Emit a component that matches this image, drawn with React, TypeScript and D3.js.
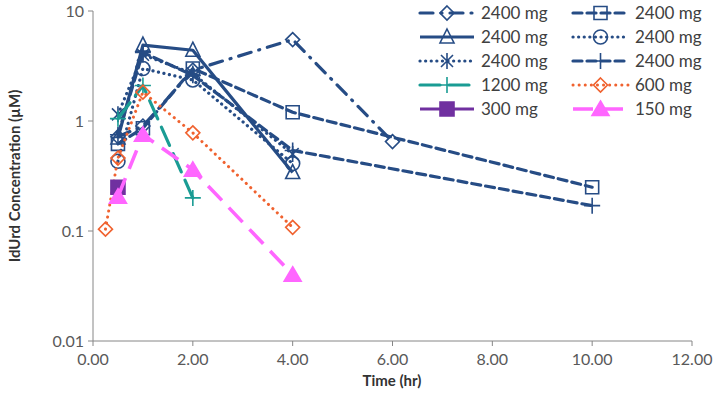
import React from "react";
import * as d3 from "d3";

// series values (time in hr, concentration in µM)
const legendLabels = ["2400 mg", "2400 mg", "2400 mg", "2400 mg", "2400 mg", "2400 mg", "1200 mg", "600 mg", "300 mg", "150 mg"];

const timesA = [0.5, 1, 2, 4, 6];
const concA = [0.72, 0.9, 2.9, 5.5, 0.65];
const timesB = [0.5, 1, 2, 4, 10];
const concB = [0.62, 0.86, 3.0, 1.2, 0.25];
const timesC = [0.5, 1, 2, 4];
const concC = [0.7, 4.9, 4.4, 0.34];
const timesD = [0.5, 1, 2, 4];
const concD = [0.43, 3.0, 2.36, 0.41];
const timesE = [0.5, 1, 2, 4];
const concE = [1.15, 4.0, 2.7, 0.5];
const timesF = [0.5, 1, 2, 4, 10];
const concF = [0.75, 4.2, 2.6, 0.54, 0.17];
const timesG = [0.5, 1, 2];
const concG = [1.05, 2.1, 0.2];
const timesH = [0.25, 0.5, 1, 2, 4];
const concH = [0.104, 0.46, 1.83, 0.78, 0.108];
const timesI = [0.5];
const concI = [0.25];
const timesJ = [0.5, 1, 2, 4];
const concJ = [0.205, 0.75, 0.36, 0.04];

const xTicks = [0, 2, 4, 6, 8, 10, 12];
const yTicks = [0.01, 0.1, 1, 10];

const navy = "#264C85";
const teal = "#1A9C94";
const orange = "#F0622F";
const purple = "#7030A0";
const pink = "#FF66FF";

type Style = { color: string; dash: string; cap: string; width: number; marker: string; fill: boolean };

const styles: Style[] = [
  { color: navy, dash: "13 8 1 8", cap: "round", width: 3.2, marker: "diamond", fill: false },
  { color: navy, dash: "9 5", cap: "round", width: 3.2, marker: "square", fill: false },
  { color: navy, dash: "", cap: "butt", width: 3.2, marker: "triangle", fill: false },
  { color: navy, dash: "0.1 5.5", cap: "round", width: 3.2, marker: "circle", fill: false },
  { color: navy, dash: "0.1 5.5", cap: "round", width: 3.2, marker: "asterisk", fill: false },
  { color: navy, dash: "9 5", cap: "round", width: 3.2, marker: "plus", fill: false },
  { color: teal, dash: "20 9", cap: "round", width: 3.2, marker: "plus", fill: false },
  { color: orange, dash: "0.1 6", cap: "round", width: 3, marker: "diamond", fill: false },
  { color: purple, dash: "", cap: "butt", width: 3.2, marker: "square", fill: true },
  { color: pink, dash: "20 10", cap: "butt", width: 3.6, marker: "triangle", fill: true },
];

const times = [timesA, timesB, timesC, timesD, timesE, timesF, timesG, timesH, timesI, timesJ];
const concs = [concA, concB, concC, concD, concE, concF, concG, concH, concI, concJ];

const W = 718;
const H = 411;
const x = d3.scaleLinear().domain([0, 12]).range([93, 692]);
const y = d3.scaleLog().domain([0.01, 10]).range([341, 11]);

function markerPath(kind: string, filled: boolean): string {
  switch (kind) {
    case "diamond":
      return "M0,-7L7,0L0,7L-7,0Z";
    case "square":
      return filled ? "M-7,-7H7V7H-7Z" : "M-6.5,-6.5H6.5V6.5H-6.5Z";
    case "triangle":
      return filled ? "M0,-8L8.5,6.5L-8.5,6.5Z" : "M0,-8L7,6L-7,6Z";
    case "asterisk":
      return "M-6,-6L6,6M-6,6L6,-6M0,-8L0,8";
    case "plus":
      return "M-8,0L8,0M0,-8L0,8";
    default:
      return "";
  }
}

function Marker({ s, cx, cy }: { s: Style; cx: number; cy: number }) {
  if (s.marker === "circle") {
    return <circle cx={cx} cy={cy} r={7} fill="none" stroke={s.color} strokeWidth={1.6} />;
  }
  return (
    <path
      d={markerPath(s.marker, s.fill)}
      transform={`translate(${cx},${cy})`}
      fill={s.fill ? s.color : "none"}
      stroke={s.color}
      strokeWidth={1.6}
    />
  );
}

export default function App() {
  const line = d3
    .line<[number, number]>()
    .x((d) => x(d[0]))
    .y((d) => y(d[1]));

  const font = "Lato, 'Open Sans', sans-serif";

  return (
    <svg width={W} height={H} style={{ position: "absolute", left: 0, top: 0, background: "#fff" }}>
      {/* axes */}
      <line x1={93} x2={93} y1={11} y2={341} stroke="#868686" strokeWidth={1} />
      <line x1={93} x2={692} y1={341} y2={341} stroke="#868686" strokeWidth={1} />
      {yTicks.map((t) => (
        <g key={"y" + t}>
          <line x1={88} x2={93} y1={y(t)} y2={y(t)} stroke="#868686" />
          <text x={84} y={y(t)} dy="0.35em" textAnchor="end" fontSize={16} fill="#595959" fontFamily={font}>
            {String(t)}
          </text>
        </g>
      ))}
      {xTicks.map((t) => (
        <g key={"x" + t}>
          <line x1={x(t)} x2={x(t)} y1={341} y2={346} stroke="#868686" />
          <text x={x(t)} y={359} dy="0.35em" textAnchor="middle" fontSize={16} fill="#595959" fontFamily={font}>
            {t.toFixed(2)}
          </text>
        </g>
      ))}
      <text x={392} y={386} textAnchor="middle" fontSize={15} fontWeight="bold" fill="#333" fontFamily={font}>
        Time (hr)
      </text>
      <text
        transform="translate(20,176) rotate(-90)"
        textAnchor="middle"
        fontSize={15}
        fontWeight="bold"
        fill="#333"
        fontFamily={font}
      >
        IdUrd Concentration (µM)
      </text>

      {/* series */}
      {styles.map((s, i) => {
        const pts = times[i].map((t, j) => [t, concs[i][j]] as [number, number]);
        return (
          <g key={"s" + i}>
            {pts.length > 1 && (
              <path
                d={line(pts) || ""}
                fill="none"
                stroke={s.color}
                strokeWidth={s.width}
                strokeDasharray={s.dash || undefined}
                strokeLinecap={s.cap as any}
                strokeLinejoin="round"
              />
            )}
            {pts.map((p, j) => (
              <Marker key={j} s={s} cx={x(p[0])} cy={y(p[1])} />
            ))}
          </g>
        );
      })}

      {/* legend */}
      {styles.map((s, i) => {
        const col = i % 2;
        const row = Math.floor(i / 2);
        const x0 = col === 0 ? 420 : 573;
        const x1 = col === 0 ? 474 : 628;
        const cy = 13 + row * 24;
        const cx = (x0 + x1) / 2;
        return (
          <g key={"l" + i}>
            <line
              x1={x0}
              x2={x1}
              y1={cy}
              y2={cy}
              stroke={s.color}
              strokeWidth={s.width}
              strokeDasharray={s.dash || undefined}
              strokeLinecap={s.cap as any}
            />
            <Marker s={s} cx={cx} cy={cy} />
            <text x={x1 + 7} y={cy} dy="0.35em" fontSize={17} fill="#404040" fontFamily={font}>
              {legendLabels[i]}
            </text>
          </g>
        );
      })}
    </svg>
  );
}
